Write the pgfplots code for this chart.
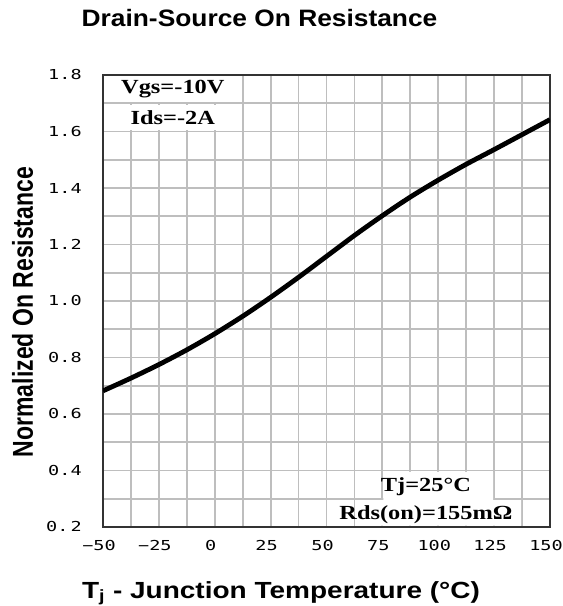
\documentclass[border=0pt]{standalone}
\usepackage{pgfplots}
\pgfplotsset{compat=1.18}
\usepackage{fontspec}
\setmainfont{Liberation Serif}
\newfontfamily\titlefont[FakeStretch=1.11]{Liberation Sans}
\newfontfamily\xlabfont[FakeStretch=1.2]{Liberation Sans}
\newfontfamily\ylabfont{Liberation Sans}
\newfontfamily\annfont[FakeStretch=1.22]{Liberation Serif}
\newfontfamily\monofont[FakeStretch=1.35]{DejaVu Sans Mono}
\definecolor{gridgray}{RGB}{190,190,190}
\pgfplotstableread{
x y
-50 0.682
-37.5 0.727
-25 0.775
-12.5 0.827
0 0.884
12.5 0.946
25 1.013
37.5 1.084
50 1.158
62.5 1.232
75 1.302
87.5 1.368
100 1.428
112.5 1.484
125 1.536
137.5 1.589
150 1.642
}\rdsdata
\begin{document}
\begin{tikzpicture}
\begin{axis}[
  scale only axis, width=335.25pt, height=339pt,
  xmin=-50, xmax=150, ymin=0.2, ymax=1.8,
  xtick={-50,-25,0,25,50,75,100,125,150},
  ytick={0.2,0.4,0.6,0.8,1.0,1.2,1.4,1.6,1.8},
  xticklabels={−50,−25,0,25,50,75,100,125,150},
  yticklabels={0.\hspace{1.5pt}2,0.4,0.6,0.8,1.0,1.2,1.4,1.6,1.8},
  minor x tick num=1, minor y tick num=1,
  grid=both,
  major grid style={draw=gridgray, line width=1.4pt},
  minor grid style={draw=gridgray, line width=1.4pt},
  tick align=inside,
  tick style={draw=gridgray, line width=1.4pt},
  axis line style={draw=black!80, line width=1.1pt},
  /pgf/number format/assume math mode=true,
  ticklabel style={font=\monofont\fontsize{10.3}{12}\selectfont, inner sep=0pt},
  xticklabel style={anchor=north, yshift=-9.75pt, xshift=-3pt},
  yticklabel style={anchor=east, xshift=-15.75pt},
]
\addplot[black, line width=3.6pt, smooth] table[x=x, y=y] {\rdsdata};
\fill[white] (axis cs:-49.4,1.7045) rectangle (axis cs:12.08,1.7955);
\fill[white] (axis cs:-49.4,1.6045) rectangle (axis cs:12.08,1.6955);
\fill[white] (axis cs:62.92,0.2045) -- (axis cs:137.08,0.2045) -- (axis cs:137.08,0.2955)
  -- (axis cs:124.58,0.2955) -- (axis cs:124.58,0.3955) -- (axis cs:75.42,0.3955)
  -- (axis cs:75.42,0.2955) -- (axis cs:62.92,0.2955) -- cycle;
\node[inner sep=0pt, font=\annfont\bfseries\fontsize{15}{18}\selectfont] at (axis cs:-18.75,1.75) {Vgs=-10V};
\node[inner sep=0pt, font=\annfont\bfseries\fontsize{15}{18}\selectfont] at (axis cs:-18.75,1.65) {Ids=-2A};
\node[inner sep=0pt, font=\annfont\bfseries\fontsize{15}{18}\selectfont] at (axis cs:94.5,0.342) {Tj=25°C};
\node[inner sep=0pt, font=\annfont\bfseries\fontsize{15}{18}\selectfont] at (axis cs:94.5,0.243) {Rds(on)=155mΩ};
\end{axis}
\node[anchor=base, inner sep=0pt, font=\titlefont\bfseries\fontsize{17.8}{20}\selectfont] at (117.4pt,375pt) {Drain-Source On Resistance};
\node[anchor=base, inner sep=0pt, font=\xlabfont\bfseries\fontsize{17.5}{20}\selectfont] at (133.5pt,-53.25pt) {T\textsubscript{j} - Junction Temperature (°C)};
\node[anchor=base, inner sep=0pt, rotate=90, font=\ylabfont\bfseries\fontsize{17.25}{20}\selectfont] at (-52.5pt,161.25pt) {\scalebox{1}[1.25]{Normalized On Resistance}};
\path[use as bounding box] (-77.25pt,-59.25pt) rectangle (344.25pt,395.25pt);
\end{tikzpicture}
\end{document}
